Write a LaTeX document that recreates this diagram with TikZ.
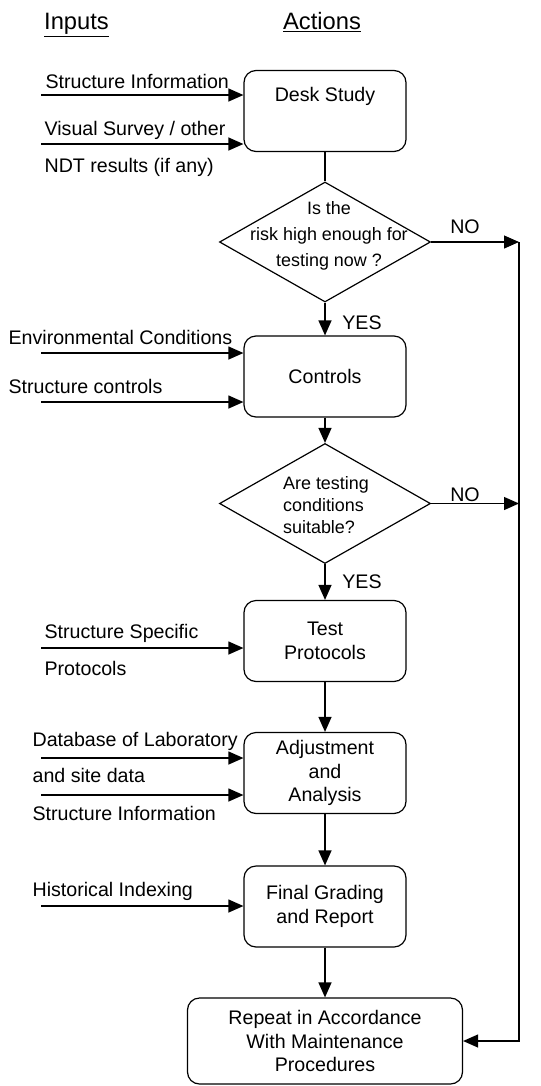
\documentclass[tikz,border=0pt]{standalone}
\usepackage{fontspec}
\setmainfont{Liberation Sans}
\usetikzlibrary{arrows.meta, shapes.geometric}

\begin{document}
\begin{tikzpicture}[x=1bp, y=-1bp, line width=1.2bp,
    font=\fontsize{19.7}{24}\selectfont,
    headline/.style={anchor=base, inner sep=0pt, font=\fontsize{23.8}{28}\selectfont},
    action/.style={draw, rounded corners=12bp, minimum width=162bp, minimum height=81bp, align=center, inner sep=0pt},
    decision/.style={draw, diamond, minimum width=211bp, minimum height=120bp, inner sep=0pt},
    question/.style={align=center, inner sep=0pt, font=\fontsize{18}{26}\selectfont},
    input/.style={anchor=base west, inner sep=0pt},
    answer/.style={anchor=base, inner sep=0pt},
    feed/.style={-{Triangle[length=15bp, width=13bp]}}]
  \useasboundingbox (0,0) rectangle (541,1086);

  \node[headline] (inputs) at (76.5,29.4) {\underline{Inputs}};
  \node[headline] (actions) at (322,29.4) {\underline{Actions}};

  \node[action, text height=14bp, text depth=34bp] (desk) at (325,111) {Desk Study};
  \node[decision] (risk) at (325,242) {};
  \node[question] (risktext) at (329,235.5) {Is the\\risk high enough for\\testing now ?};
  \node[action] (controls) at (325,376.5) {Controls};
  \node[decision] (suitable) at (325,503.5) {};
  \node[question, align=left, font=\fontsize{18}{21.7}\selectfont] (suitabletext) at (326,505) {Are testing\\conditions\\suitable?};
  \node[action] (protocols) at (325,641) {Test\\Protocols};
  \node[action] (analysis) at (325,773) {Adjustment\\and\\Analysis};
  \node[action] (report) at (325,906.5) {Final Grading\\and Report};
  \node[action, minimum width=275bp, minimum height=86bp] (repeat) at (325,1041) {Repeat in Accordance\\With Maintenance\\Procedures};

  \node[answer] (no1) at (465,233.3) {NO};
  \node[answer] (no2) at (465,501) {NO};
  \node[answer] (yes1) at (362,329.3) {YES};
  \node[answer] (yes2) at (362,588.7) {YES};

  \node[input] (structinfo) at (45,88.3) {Structure Information};
  \node[input] (survey) at (44,135) {Visual Survey / other};
  \node[input] (ndt) at (44,172) {NDT results (if any)};
  \node[input] (environ) at (8,344) {Environmental Conditions};
  \node[input] (structctl) at (8,393.3) {Structure controls};
  \node[input] (specific) at (44,638.3) {Structure Specific};
  \node[input] (specprot) at (44,675) {Protocols};
  \node[input] (database) at (32,746.7) {Database of Laboratory};
  \node[input] (sitedata) at (32,782.7) {and site data};
  \node[input] (structinfob) at (32,820) {Structure Information};
  \node[input] (history) at (32,896.7) {Historical Indexing};

  \coordinate (in1) at (41,95);
  \coordinate (in2) at (41,144);
  \coordinate (in3) at (41,353);
  \coordinate (in4) at (41,402);
  \coordinate (in5) at (41,648);
  \coordinate (in6) at (41,758);
  \coordinate (in7) at (41,795);
  \coordinate (in8) at (41,906);
  \coordinate (loop) at (519,242);

  \draw[feed] (in1) -- (in1 -| desk.west);
  \draw[feed] (in2) -- (in2 -| desk.west);
  \draw[feed] (in3) -- (in3 -| controls.west);
  \draw[feed] (in4) -- (in4 -| controls.west);
  \draw[feed] (in5) -- (in5 -| protocols.west);
  \draw[feed] (in6) -- (in6 -| analysis.west);
  \draw[feed] (in7) -- (in7 -| analysis.west);
  \draw[feed] (in8) -- (in8 -| report.west);

  \draw (desk) -- (risk);
  \draw[feed] (risk) -- (controls);
  \draw[feed] (controls) -- (suitable);
  \draw[feed] (suitable) -- (protocols);
  \draw[feed] (protocols) -- (analysis);
  \draw[feed] (analysis) -- (report);
  \draw[feed] (report) -- (repeat);

  \draw[feed] (risk) -- (loop);
  \draw[feed] (suitable) -- (suitable -| loop);
  \draw[feed] (loop) |- (repeat);
\end{tikzpicture}
\end{document}
